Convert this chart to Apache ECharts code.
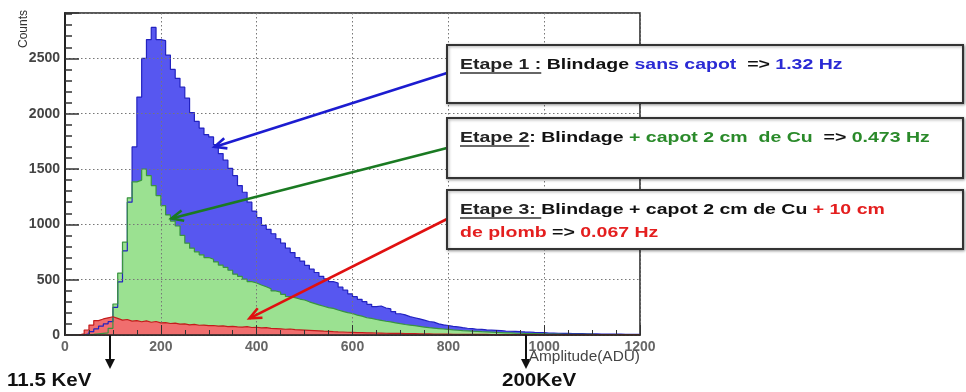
<!DOCTYPE html>
<html>
<head>
<meta charset="utf-8">
<script src="https://cdn.jsdelivr.net/npm/echarts@6/dist/echarts.min.js"></script>
<style>
  html, body { margin: 0; padding: 0; background: #fff; }
  #main { width: 966px; height: 392px; }
</style>
</head>
<body>
<div id="main"></div>
<script>
// histogram: bins of 10 ADU from 0 to 1200
var BIN_WIDTH = 10;
var X_MAX = 1200;
var xTicks = [0, 200, 400, 600, 800, 1000, 1200];
var yTicks = [0, 500, 1000, 1500, 2000, 2500];

// Etape 1 : sans capot
var countsStep1 = [
    0, 0, 0, 2, 10, 30, 55, 80, 100, 120,
    250, 480, 760, 1200, 1700, 2150, 2500, 2670, 2780, 2670,
    2660, 2530, 2400, 2320, 2240, 2140, 2010, 1930, 1870, 1810,
    1790, 1720, 1640, 1580, 1505, 1440, 1350, 1290, 1200, 1120,
    1060, 990, 955, 915, 870, 830, 785, 745, 700, 668,
    630, 595, 565, 530, 508, 482, 470, 432, 405, 372,
    346, 322, 301, 277, 256, 262, 244, 236, 212, 192,
    182, 166, 156, 146, 134, 122, 116, 101, 92, 86,
    78, 73, 66, 61, 58, 52, 50, 46, 44, 42,
    40, 36, 34, 33, 30, 28, 27, 24, 22, 21,
    18, 17, 16, 15, 14, 13, 12, 12, 11, 10,
    10, 9, 9, 8, 8, 8, 7, 7, 6, 6
];
// Etape 2 : + capot 2 cm de Cu
var countsStep2 = [
    0, 0, 0, 0, 2, 5, 10, 15, 20, 60,
    280, 560, 840, 1240, 1384, 1400, 1500, 1440, 1350, 1260,
    1170, 1085, 1030, 985, 900, 830, 785, 752, 725, 700,
    685, 660, 632, 612, 585, 550, 530, 505, 483, 470,
    452, 436, 418, 398, 388, 368, 348, 338, 325, 316,
    300, 286, 272, 260, 248, 240, 226, 214, 202, 194,
    180, 170, 156, 150, 140, 132, 124, 118, 110, 102,
    95, 90, 84, 78, 72, 66, 62, 58, 54, 50,
    46, 43, 40, 38, 35, 33, 30, 28, 26, 24,
    22, 20, 19, 17, 16, 14, 13, 12, 11, 10,
    9, 8, 8, 7, 7, 6, 6, 5, 5, 5,
    4, 4, 4, 4, 3, 3, 3, 3, 3, 3
];
// Etape 3 : + 10 cm de plomb
var countsStep3 = [
    0, 0, 2, 10, 45, 90, 130, 145, 155, 165,
    150, 135, 140, 125, 130, 120, 128, 115, 122, 110,
    112, 104, 108, 98, 100, 92, 96, 88, 90, 84,
    86, 80, 82, 76, 78, 74, 72, 75, 68, 70,
    64, 66, 60, 58, 56, 52, 54, 48, 46, 44,
    42, 40, 38, 35, 33, 30, 28, 27, 25, 24,
    22, 21, 20, 19, 18, 17, 16, 15, 14, 14,
    13, 12, 12, 11, 10, 10, 9, 9, 8, 8,
    7, 7, 6, 6, 6, 5, 5, 5, 4, 4,
    4, 4, 4, 3, 3, 3, 3, 3, 3, 2,
    2, 2, 2, 2, 2, 2, 2, 2, 1, 1,
    1, 1, 1, 1, 1, 1, 1, 1, 1, 1
];

// where each arrow points to (ADU, counts)
var arrowTargets = [[312, 1700], [222, 1053], [385, 151]];
// energy thresholds on the x axis (ADU)
var energyAdu = [94, 962];
var energyLabels = ['11.5 KeV', '200KeV'];

var FONT = '"Liberation Sans", Arial, Helvetica, sans-serif';

function toSteps(counts) {
    var pts = [];
    for (var i = 0; i < counts.length; i++) {
        pts.push([i * BIN_WIDTH, counts[i]]);
    }
    pts.push([X_MAX, counts[counts.length - 1]]);
    return pts;
}

var myChart = echarts.init(document.getElementById('main'), null, {renderer: 'canvas'});

function histSeries(name, counts, fill, border) {
    return {
        name: name,
        type: 'line',
        step: 'end',
        symbol: 'none',
        silent: true,
        animation: false,
        data: toSteps(counts),
        lineStyle: {color: border, width: 1.2},
        areaStyle: {color: fill, opacity: 1}
    };
}

var gridLine = {show: true, lineStyle: {color: '#777', type: [1.5, 2.5], width: 1}};

var option = {
    animation: false,
    backgroundColor: '#fff',
    grid: {
        left: 65, right: 326, top: 13, bottom: 57,
        show: true, borderColor: '#222', borderWidth: 1.5, backgroundColor: '#fff'
    },
    xAxis: {
        type: 'value',
        z: 5,
        min: 0, max: X_MAX, interval: 200,
        axisLine: {show: true, onZero: false, lineStyle: {color: '#222', width: 1.5}},
        axisTick: {show: true, inside: true, length: 10, lineStyle: {color: '#333'}},
        minorTick: {show: true, splitNumber: 4, length: 5, lineStyle: {color: '#333'}},
        axisLabel: {
            color: '#666', fontSize: 14, fontWeight: 'bold', fontFamily: FONT, margin: 5,
            formatter: function (v) { return xTicks.indexOf(v) >= 0 ? String(v) : ''; }
        },
        splitLine: gridLine
    },
    yAxis: {
        type: 'value',
        z: 5,
        min: 0, max: 2910, interval: 500,
        axisLine: {show: true, lineStyle: {color: '#222', width: 2}},
        axisTick: {show: true, inside: true, length: 14, lineStyle: {color: '#333', width: 1.5}},
        minorTick: {show: true, splitNumber: 5, length: 7, lineStyle: {color: '#333', width: 1.5}},
        axisLabel: {
            color: '#444', fontSize: 14, fontWeight: 'bold', fontFamily: FONT, margin: 5,
            showMaxLabel: false,
            formatter: function (v) { return yTicks.indexOf(v) >= 0 ? String(v) : ''; }
        },
        splitLine: gridLine
    },
    series: [
        histSeries('Etape 1', countsStep1, '#5757f0', '#2222c0'),
        histSeries('Etape 2', countsStep2, '#9be191', '#3a9440'),
        histSeries('Etape 3', countsStep3, '#f06e6e', '#c41c1c')
    ]
};
myChart.setOption(option);

/* ---- annotations ---- */
var measureCtx = document.createElement('canvas').getContext('2d');
function textWidth(str, font) {
    measureCtx.font = font;
    return measureCtx.measureText(str).width;
}

// the source picture is stretched horizontally, text too
var BOX_FONT = 'bold 15px ' + FONT;
var BOX_SX = 1.3;
var boxes = [
    {top: 45, height: 58, lines: [[['Etape 1 :', 'u'], [' Blindage ', 'k'], ['sans capot', 'b'], ['  => ', 'k'], ['1.32 Hz', 'b']]]},
    {top: 118, height: 60, lines: [[['Etape 2', 'u'], [': Blindage ', 'k'], ['+ capot 2 cm  de Cu', 'g'], ['  => ', 'k'], ['0.473 Hz', 'g']]]},
    {top: 190, height: 59, lines: [
        [['Etape 3: ', 'u'], ['Blindage + capot 2 cm de Cu ', 'k'], ['+ 10 cm', 'r']],
        [['de plomb', 'r'], [' => ', 'k'], ['0.067 Hz', 'r']]
    ]}
];
var textColors = {u: '#222', k: '#111', b: '#2a2ad4', g: '#2a8a2a', r: '#e41e1e'};
var BOX_LEFT = 447, BOX_RIGHT = 963;

var graphics = [];

boxes.forEach(function (bx) {
    graphics.push({
        type: 'rect', z: 100,
        shape: {x: BOX_LEFT, y: bx.top, width: BOX_RIGHT - BOX_LEFT, height: bx.height},
        style: {fill: '#fff', stroke: '#333', lineWidth: 2, shadowBlur: 3, shadowColor: 'rgba(0,0,0,0.35)', shadowOffsetX: 1, shadowOffsetY: 1}
    });
    bx.lines.forEach(function (line, li) {
        var x = BOX_LEFT + 13;
        var y = bx.top + 20 + li * 23;
        line.forEach(function (seg) {
            var w = textWidth(seg[0], BOX_FONT) * BOX_SX;
            graphics.push({
                type: 'text', z: 101, x: x, y: y, scaleX: BOX_SX,
                style: {text: seg[0], fill: textColors[seg[1]], font: BOX_FONT, textAlign: 'left', textVerticalAlign: 'middle'}
            });
            if (seg[1] === 'u') {
                graphics.push({
                    type: 'line', z: 101,
                    shape: {x1: x, y1: y + 8, x2: x + w, y2: y + 8},
                    style: {stroke: '#333', lineWidth: 1.3}
                });
            }
            x += w;
        });
    });
});

// arrows from boxes to the histograms
var arrowStarts = [[447, 73], [447, 148], [447, 219]];
var arrowColors = ['#1c1cd0', '#1a7a22', '#e01010'];
arrowTargets.forEach(function (t, i) {
    var p = myChart.convertToPixel({gridIndex: 0}, t);
    var s = arrowStarts[i];
    var dx = s[0] - p[0], dy = s[1] - p[1];
    var len = Math.sqrt(dx * dx + dy * dy);
    var ux = dx / len, uy = dy / len;
    var hl = 13, ang = 0.42;
    var c = Math.cos(ang), sn = Math.sin(ang);
    var h1 = [p[0] + hl * (ux * c - uy * sn), p[1] + hl * (ux * sn + uy * c)];
    var h2 = [p[0] + hl * (ux * c + uy * sn), p[1] + hl * (-ux * sn + uy * c)];
    graphics.push({
        type: 'line', z: 90,
        shape: {x1: s[0], y1: s[1], x2: p[0], y2: p[1]},
        style: {stroke: arrowColors[i], lineWidth: 2.6}
    });
    graphics.push({
        type: 'polyline', z: 90,
        shape: {points: [h1, [p[0], p[1]], h2]},
        style: {stroke: arrowColors[i], lineWidth: 2.6, fill: null}
    });
});

// energy markers under the x axis
var energyLabelOffset = [-103, -24];
energyAdu.forEach(function (adu, i) {
    var p = myChart.convertToPixel({gridIndex: 0}, [adu, 0]);
    var x = Math.round(p[0]);
    graphics.push({
        type: 'line', z: 90,
        shape: {x1: x, y1: p[1], x2: x, y2: p[1] + 26},
        style: {stroke: '#111', lineWidth: 2}
    });
    graphics.push({
        type: 'polygon', z: 90,
        shape: {points: [[x - 5, p[1] + 24], [x + 5, p[1] + 24], [x, p[1] + 34]]},
        style: {fill: '#111'}
    });
    graphics.push({
        type: 'text', z: 90, x: x + energyLabelOffset[i], y: 381, scaleX: 1.14,
        style: {text: energyLabels[i], fill: '#111', font: 'bold 18px ' + FONT, textAlign: 'left', textVerticalAlign: 'middle'}
    });
});

// axis titles
graphics.push({
    type: 'text', z: 90, x: 24, y: 48, rotation: Math.PI / 2,
    style: {text: 'Counts', fill: '#333', font: '12px ' + FONT, textAlign: 'left', textVerticalAlign: 'middle'}
});
graphics.push({
    type: 'text', z: 90, x: 640, y: 357, scaleX: 1.1,
    style: {text: 'Amplitude(ADU)', fill: '#444', font: '14px ' + FONT, textAlign: 'right', textVerticalAlign: 'middle'}
});

myChart.setOption({graphic: graphics});
</script>
</body>
</html>
